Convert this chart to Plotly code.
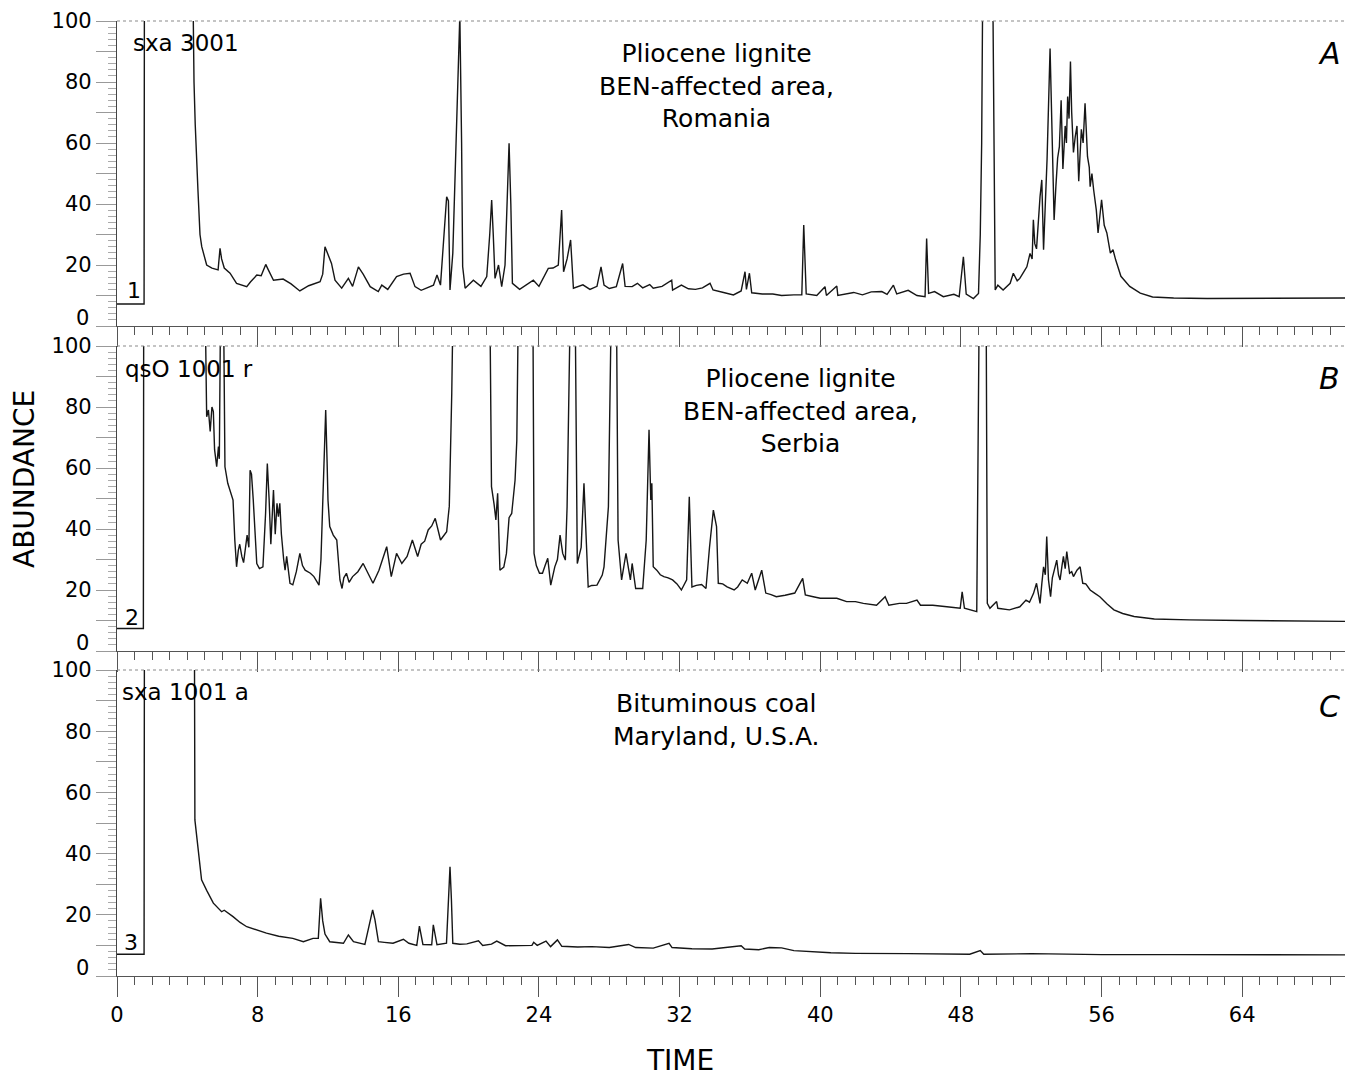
import plotly.graph_objects as go

# ---------------- data ----------------
t_A = [0, 1.54, 1.56, 4.3, 4.38, 4.45, 4.6, 4.72, 4.82, 5.1, 5.4, 5.75, 5.86, 5.95, 6.1, 6.43, 6.8, 7.38, 7.6, 7.95,
       8.2, 8.46, 8.6, 8.9, 9.45, 9.9, 10.4, 10.9, 11.55, 11.7, 11.83, 11.95, 12.2, 12.4, 12.78, 13.16, 13.4, 13.73, 14.0, 14.4,
       14.86, 15.06, 15.4, 15.9, 16.3, 16.67, 16.95, 17.3, 18.0, 18.2, 18.4, 18.6, 18.75, 18.85, 18.94, 19.1, 19.3, 19.5, 19.6, 19.66,
       19.8, 20.27, 20.7, 21.03, 21.2, 21.31, 21.4, 21.5, 21.7, 21.88, 22.07, 22.3, 22.4, 22.49, 22.9, 23.3, 23.68, 24.0, 24.53, 24.8,
       25.1, 25.29, 25.4, 25.6, 25.8, 25.96, 26.5, 26.9, 27.3, 27.53, 27.7, 28.0, 28.4, 28.76, 28.9, 29.3, 29.6, 29.9, 30.3, 30.5,
       31.0, 31.55, 31.6, 32.1, 32.5, 32.9, 33.3, 33.73, 33.9, 34.5, 35.06, 35.5, 35.72, 35.8, 35.97, 36.1, 36.7, 37.3, 37.8, 38.5,
       38.95, 39.06, 39.2, 39.8, 40.27, 40.35, 40.94, 41.0, 41.9, 42.4, 42.9, 43.5, 43.8, 44.16, 44.35, 45.0, 45.5, 45.96, 46.05, 46.16,
       46.5, 47.0, 47.6, 47.9, 48.05, 48.14, 48.3, 48.71, 49.0, 49.1, 49.18, 49.25, 49.8, 49.9, 49.95, 50.1, 50.4, 50.8, 50.98, 51.2,
       51.35, 51.6, 51.75, 51.93, 52.05, 52.12, 52.2, 52.3, 52.4, 52.5, 52.6, 52.7, 52.8, 52.9, 53.07, 53.15, 53.2, 53.3, 53.4, 53.5,
       53.6, 53.7, 53.8, 53.93, 54.0, 54.07, 54.15, 54.23, 54.3, 54.4, 54.5, 54.6, 54.7, 54.85, 54.95, 55.06, 55.2, 55.3, 55.35, 55.45,
       55.55, 55.7, 55.8, 55.9, 56.0, 56.15, 56.3, 56.5, 56.65, 56.8, 57.1, 57.6, 58.2, 58.9, 60.1, 62, 64, 66, 68, 70.3]
v_A = [7.2, 7.2, 120, 120, 80, 66, 45, 30, 26, 20, 19, 18.4, 25.5, 22, 19, 17.3, 14, 12.9, 14.5, 16.7,
       16.5, 20.2, 18.5, 15, 15.4, 13.8, 11.5, 13.2, 14.5, 17, 26, 24, 20.5, 15, 12.4, 15.6, 13, 19.4, 17, 12.9,
       11.3, 13.4, 12, 16.2, 17, 17.3, 12.9, 11.7, 13.4, 16.7, 13.4, 30, 42.4, 41, 11.8, 23.9, 60, 102, 60, 19.5,
       12.4, 15, 13, 16.2, 30, 41.3, 30, 15.6, 20, 12.9, 20, 59.9, 40, 14, 12, 13.5, 15, 13, 18.9, 19,
       20, 38, 17.8, 22, 28.2, 12.4, 13.5, 12, 13, 19.4, 13.4, 12.3, 12.9, 20.5, 13, 12.9, 14, 12.5, 13.6, 12.4,
       13, 15, 11.8, 13.4, 12.2, 12, 12.5, 14, 11.8, 11, 10.2, 11.5, 17.8, 12, 17.3, 10.9, 10.5, 10.5, 10, 10.2,
       10.2, 33.1, 10.5, 10, 12.9, 10, 13.1, 10, 11, 10.2, 11.2, 11.3, 10.4, 13.4, 10.5, 11.7, 10, 9.6, 28.7, 10.7,
       11.3, 9.6, 10.4, 9.6, 18, 22.7, 10.5, 9.0, 10.7, 30, 60, 120, 120, 40, 11.8, 13.4, 11.8, 14, 17.3, 14.8,
       15.6, 18, 19.4, 23.8, 22, 34.8, 27, 25.3, 36, 42.4, 47.9, 25, 40, 54.8, 91, 70, 60.7, 34.8, 45.7, 55,
       58.8, 74, 51.5, 65.6, 60, 75.2, 68, 86.7, 70, 56.9, 62, 65.6, 47.5, 64.5, 60, 73, 55.5, 52, 45.7, 50,
       44.6, 38, 30.5, 36, 41.4, 33, 30.5, 23.9, 25, 21.7, 16.3, 13, 10.8, 9.5, 9.2, 9.0, 9.1, 9.0, 9.1, 9.2]

t_B = [0, 1.5, 1.52, 5.0, 5.1, 5.2, 5.3, 5.4, 5.48, 5.55, 5.67, 5.77, 5.82, 5.9, 6.05, 6.14, 6.3, 6.6, 6.7, 6.8,
       6.9, 6.98, 7.1, 7.2, 7.4, 7.5, 7.57, 7.65, 7.75, 7.95, 8.1, 8.3, 8.45, 8.55, 8.65, 8.75, 8.9, 9.0, 9.1, 9.18,
       9.26, 9.35, 9.48, 9.56, 9.65, 9.84, 10.0, 10.2, 10.4, 10.55, 10.7, 11.0, 11.2, 11.49, 11.6, 11.7, 11.87, 11.95, 12.0, 12.1,
       12.3, 12.5, 12.68, 12.8, 12.9, 13.05, 13.2, 13.4, 13.7, 14.0, 14.3, 14.56, 14.9, 15.1, 15.34, 15.6, 15.9, 16.2, 16.5, 16.8,
       17.1, 17.3, 17.5, 17.7, 17.9, 18.1, 18.25, 18.4, 18.75, 18.9, 19.04, 19.13, 21.2, 21.3, 21.45, 21.55, 21.65, 21.78, 22.0, 22.15,
       22.3, 22.45, 22.64, 22.74, 22.84, 23.65, 23.72, 23.85, 24.03, 24.2, 24.35, 24.5, 24.67, 24.9, 25.05, 25.2, 25.35, 25.5, 25.6, 25.8,
       26.05, 26.18, 26.4, 26.56, 26.7, 26.8, 27.0, 27.3, 27.6, 27.7, 27.95, 28.13, 28.4, 28.5, 28.7, 28.95, 29.2, 29.3, 29.5, 29.9,
       30.1, 30.26, 30.36, 30.42, 30.5, 30.7, 30.9, 31.1, 31.35, 31.6, 31.85, 32.1, 32.4, 32.55, 32.7, 32.95, 33.25, 33.5, 33.7, 33.92,
       34.1, 34.2, 34.45, 34.7, 35.1, 35.3, 35.56, 35.85, 36.1, 36.3, 36.67, 36.9, 37.2, 37.5, 38.0, 38.55, 39.0, 39.15, 39.6, 40.0,
       40.94, 41.5, 42.0, 42.45, 43.2, 43.69, 43.9, 44.5, 44.9, 45.5, 45.7, 46.4, 47.2, 47.96, 48.07, 48.2, 48.9, 48.98, 49.05, 49.43,
       49.48, 49.5, 49.65, 50.03, 50.1, 50.76, 51.35, 51.7, 51.9, 52.13, 52.3, 52.5, 52.6, 52.7, 52.8, 52.88, 52.98, 53.1, 53.2, 53.3,
       53.45, 53.55, 53.64, 53.75, 53.83, 53.93, 54.02, 54.18, 54.3, 54.4, 54.6, 54.78, 54.93, 55.1, 55.35, 55.6, 55.9, 56.3, 56.7, 57.2,
       57.85, 59.0, 61, 64, 67, 70.3]
v_B = [7.4, 7.4, 120, 120, 76.8, 79, 72, 80, 78.5, 66, 60.4, 67, 63, 120, 120, 60.4, 55, 49.5, 36.4, 27.6,
       33, 35, 31, 29, 38, 34, 59.3, 58, 49.5, 28.7, 27, 27.6, 45, 61.5, 50, 35, 52.8, 38.3, 48.4, 44,
       48.4, 38.3, 30, 26.5, 31, 22.2, 21.7, 26, 32, 28, 26.5, 25.5, 24.4, 21.6, 30, 47, 79, 62, 49.5, 40.8,
       38, 36.4, 23.3, 20.5, 24, 25.5, 22.5, 24.4, 26, 28.7, 25, 22.2, 26.5, 30, 34.2, 24.4, 32, 28.7, 31, 36.4,
       31, 35, 36, 39.7, 41, 43.5, 40, 36.4, 39.1, 47.5, 84.5, 120, 120, 53.9, 48, 43, 51.7, 26.5, 27.5, 32,
       43.7, 45.1, 56, 69, 120, 120, 32, 28, 25.5, 25.5, 28, 30.4, 21.6, 27.6, 30, 38, 32, 29.8, 47.3, 120,
       120, 28.7, 34, 55, 35, 21, 21.5, 21.6, 24.9, 27.6, 47.3, 120, 120, 36.4, 23.3, 32, 23.3, 28.7, 20.5, 20.5,
       36.4, 72.5, 49.5, 55, 27.6, 26.5, 25, 24.4, 24, 23.3, 22, 20, 23.3, 50.6, 21, 21.5, 21.8, 20.5, 34, 46.2,
       40.8, 22.2, 22, 21, 20, 21, 23.3, 22.2, 25.5, 20, 26.5, 19, 18.5, 17.8, 18.3, 19, 23.8, 18.4, 17.8, 17.3,
       17.3, 16.2, 16.2, 15.6, 15, 17.8, 15, 15.6, 15.6, 16.7, 15, 15, 14.5, 14, 19.4, 14, 12.9, 60, 120, 120,
       40, 15.6, 14, 16.2, 14, 13.5, 14.5, 16.7, 16, 18.9, 22.2, 15.6, 22, 27.6, 25, 37.5, 23.3, 17.8, 24, 26.5,
       29.8, 25, 23.3, 28, 31, 27, 32.6, 25.5, 26, 24.4, 26.5, 27.6, 22.2, 22, 20, 19, 17.8, 15.5, 13.5, 12.3,
       11.3, 10.5, 10.2, 10.0, 9.8, 9.7]

t_C = [0, 1.54, 1.56, 4.4, 4.43, 4.62, 4.81, 5.1, 5.48, 5.95, 6.1, 6.6, 7.0, 7.38, 8.5, 9.2, 10.0, 10.6, 11.15, 11.45,
       11.58, 11.7, 11.83, 12.1, 12.88, 13.16, 13.45, 14.1, 14.4, 14.54, 14.67, 14.87, 15.2, 15.7, 16.29, 16.6, 17.05, 17.2, 17.4, 17.9,
       17.99, 18.2, 18.74, 18.85, 18.94, 19.02, 19.1, 19.5, 19.9, 20.56, 20.8, 21.3, 21.6, 22.1, 23.0, 23.6, 23.7, 23.9, 24.4, 24.66,
       25.05, 25.3, 26.2, 27.0, 28.0, 29.1, 29.5, 30.5, 31.4, 31.57, 32.7, 33.85, 35.5, 35.7, 36.5, 37.1, 37.8, 38.5, 40.6, 42,
       45.0, 48.5, 49.1, 49.3, 52, 56, 60, 64, 70.3]
v_C = [7.1, 7.1, 120, 120, 51, 40, 31.4, 28, 23.8, 21, 21.5, 19.4, 17.5, 16.1, 14, 13, 12.3, 11.2, 12.3, 12.3,
       25.4, 18, 13.7, 11.2, 10.7, 13.4, 11.2, 10.3, 18.4, 21.6, 18.4, 11.2, 11, 10.7, 12, 10.7, 10, 16.3, 10.3, 10.2,
       16.7, 10.2, 10.7, 25, 35.7, 25, 10.7, 10.4, 10.5, 11.5, 10, 10.4, 11.4, 9.9, 9.9, 10, 11, 10, 11.4, 9.6,
       11.8, 9.7, 9.5, 9.6, 9.3, 10.3, 9.3, 9.1, 10.7, 9.3, 8.9, 8.8, 9.9, 8.8, 8.6, 9.3, 9.2, 8.3, 7.6, 7.4,
       7.3, 7.1, 8.3, 7.1, 7.3, 7.0, 7.0, 7.0, 6.9]

y_tickvals = [0, 10, 20, 30, 40, 50, 60, 70, 80, 90, 100]
y_ticktext = ["", "", "20", "", "40", "", "60", "", "80", "", "100"]
y_zero_label = "0"
x_tickvals = [0, 8, 16, 24, 32, 40, 48, 56, 64]
x_ticktext = ["0", "8", "16", "24", "32", "40", "48", "56", "64"]

run_codes = ["sxa 3001", "qsO 1001 r", "sxa 1001 a"]
run_numbers = ["1", "2", "3"]
panel_letters = ["A", "B", "C"]
sample_texts = ["Pliocene lignite<br>BEN-affected area,<br>Romania",
                "Pliocene lignite<br>BEN-affected area,<br>Serbia",
                "Bituminous coal<br>Maryland, U.S.A."]
X_MAX = 70.3

FONT = "DejaVu Sans"
LINE = "#161616"

# page has an 8 px body margin, so the figure is 8 px smaller than the window
W, H = 1345, 1068
ML = 109
PW = W - ML


def py(screen_y):
    """screen pixel -> paper fraction (vertical)"""
    return 1 - (screen_y - 8) / H


def px(screen_x):
    return (screen_x - 8 - ML) / PW


fig = go.Figure()
series = [(t_A, v_A), (t_B, v_B), (t_C, v_C)]
for i, (t, v) in enumerate(series):
    sfx = "" if i == 0 else str(i + 1)
    fig.add_trace(go.Scatter(x=t, y=v, mode="lines",
                             line=dict(color=LINE, width=1.4),
                             xaxis="x" + sfx, yaxis="y" + sfx,
                             showlegend=False, hoverinfo="skip"))

panel_px = [(21, 326), (346, 651), (670, 976)]
domains = [[py(b), py(t)] for (t, b) in panel_px]

layout = dict(width=W, height=H, autosize=False,
              margin=dict(l=ML, r=0, t=0, b=0, pad=0),
              paper_bgcolor="white", plot_bgcolor="white",
              font=dict(family=FONT, color="black"))

for i in range(3):
    sfx = "" if i == 0 else str(i + 1)
    layout["xaxis" + sfx] = dict(
        domain=[0, 1], anchor="y" + sfx, range=[0, X_MAX], automargin=False,
        showline=True, linecolor="#555", linewidth=1,
        showgrid=False, zeroline=False,
        ticks="outside", tickmode="array", tickvals=x_tickvals, ticktext=x_ticktext,
        ticklen=20, tickcolor="#555", tickwidth=1,
        showticklabels=(i == 2), tickfont=dict(size=21, family=FONT, color="black"),
        minor=dict(ticks="outside", tickmode="linear", tick0=0, dtick=1,
                   ticklen=8, tickcolor="#555", tickwidth=1),
        fixedrange=True)
    layout["yaxis" + sfx] = dict(
        domain=domains[i], anchor="x" + sfx, range=[0, 100], automargin=False,
        showline=True, linecolor="#444", linewidth=1.2,
        showgrid=False, zeroline=False,
        ticks="outside", tickmode="array", tickvals=y_tickvals, ticktext=y_ticktext,
        ticklen=20, tickcolor="#999", tickwidth=1,
        tickfont=dict(size=21, family=FONT, color="black"),
        minor=dict(ticks="outside", tickmode="linear", tick0=0, dtick=2,
                   ticklen=8, tickcolor="#aaa", tickwidth=1),
        fixedrange=True)

shapes = []
annotations = []
label_pos = [
    dict(code=(0.8, 92.8), num=(0.45, 11.8), letter=(68.95, 89.5), text=(34.1, 78.7)),
    dict(code=(0.34, 92.5), num=(0.34, 11.1), letter=(68.95, 89.2), text=(38.85, 78.7)),
    dict(code=(0.17, 92.8), num=(0.28, 11.1), letter=(68.95, 88.2), text=(34.1, 83.5)),
]
for i in range(3):
    sfx = "" if i == 0 else str(i + 1)
    shapes.append(dict(type="line", xref="x" + sfx + " domain", yref="y" + sfx + " domain",
                       x0=0, x1=1, y0=1, y1=1,
                       line=dict(color="#8a8a8a", width=1.2, dash="dot")))
    p = label_pos[i]
    annotations.append(dict(xref="x" + sfx, yref="y" + sfx, x=p["code"][0], y=p["code"][1],
                            text=run_codes[i], showarrow=False, xanchor="left", yanchor="middle",
                            font=dict(size=23, family=FONT, color="black")))
    annotations.append(dict(xref="x" + sfx, yref="y" + sfx, x=p["num"][0], y=p["num"][1],
                            text=run_numbers[i], showarrow=False, xanchor="left", yanchor="middle",
                            font=dict(size=22, family=FONT, color="black")))
    annotations.append(dict(xref="x" + sfx, yref="y" + sfx, x=p["letter"][0], y=p["letter"][1],
                            text="<i>" + panel_letters[i] + "</i>", showarrow=False,
                            xanchor="center", yanchor="middle",
                            font=dict(size=30, family=FONT, color="black")))
    annotations.append(dict(xref="x" + sfx, yref="y" + sfx, x=p["text"][0], y=p["text"][1],
                            text=sample_texts[i], showarrow=False, align="center",
                            xanchor="center", yanchor="middle",
                            font=dict(size=25, family=FONT, color="black")))
    # the "0" tick label sits a little above its axis line in the original
    annotations.append(dict(xref="paper", yref="y" + sfx, x=px(91), y=2.6,
                            text=y_zero_label, showarrow=False, xanchor="right", yanchor="middle",
                            font=dict(size=21, family=FONT, color="black")))

annotations.append(dict(xref="paper", yref="paper", x=px(24), y=py(479),
                        text="ABUNDANCE", textangle=-90, showarrow=False,
                        xanchor="center", yanchor="middle",
                        font=dict(size=28, family=FONT, color="black")))
annotations.append(dict(xref="paper", yref="paper", x=px(680), y=py(1060),
                        text="TIME", showarrow=False, xanchor="center", yanchor="middle",
                        font=dict(size=28, family=FONT, color="black")))

layout["shapes"] = shapes
layout["annotations"] = annotations
fig.update_layout(**layout)
fig.write_html("out.html")
